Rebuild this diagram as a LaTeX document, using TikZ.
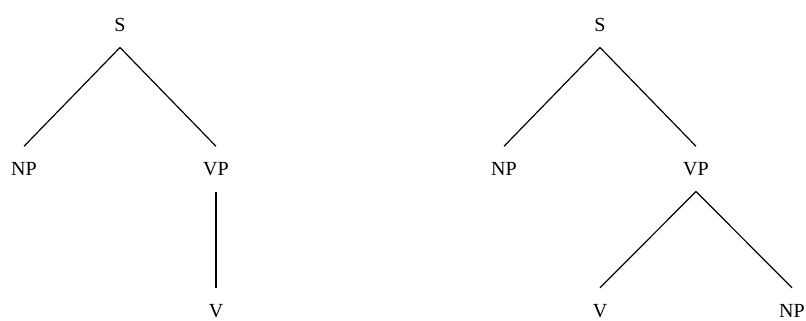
\documentclass[tikz,border=0pt]{standalone}
\usepackage{fontspec}
\setmainfont{Liberation Serif}
\usepackage{xcolor}
\usepackage{tikz}
\definecolor{ink}{HTML}{000000}
\tikzset{
  cat/.style={anchor=base, text=ink, font=\fontsize{20}{24}\selectfont,
    text height=13.2pt, text depth=0pt, inner xsep=0pt, inner ysep=16pt, outer sep=0pt},
  branch/.style={draw=ink, line width=1.2pt}
}
\begin{document}
\begin{tikzpicture}[x=1pt,y=-1pt]
  \useasboundingbox (0,0) rectangle (806,321);

  % left tree: intransitive
  \node[cat] (S1)  at (120,31.5) {S};
  \node[cat] (NP1) at (24,175.5) {NP};
  \node[cat] (VP1) at (216,175.5) {VP};
  \node[cat] (V1)  at (216,317) {V};
  \draw[branch] (S1.south) -- (NP1.north);
  \draw[branch] (S1.south) -- (VP1.north);
  \draw[branch] (VP1.south) -- (V1.north);

  % right tree: transitive
  \node[cat] (S2)  at (600,31.5) {S};
  \node[cat] (NP2) at (504,175.5) {NP};
  \node[cat] (VP2) at (696,175.5) {VP};
  \node[cat] (V2)  at (600,317) {V};
  \node[cat] (NP3) at (792,317) {NP};
  \draw[branch] (S2.south) -- (NP2.north);
  \draw[branch] (S2.south) -- (VP2.north);
  \draw[branch] (VP2.south) -- (V2.north);
  \draw[branch] (VP2.south) -- (NP3.north);
\end{tikzpicture}
\end{document}
